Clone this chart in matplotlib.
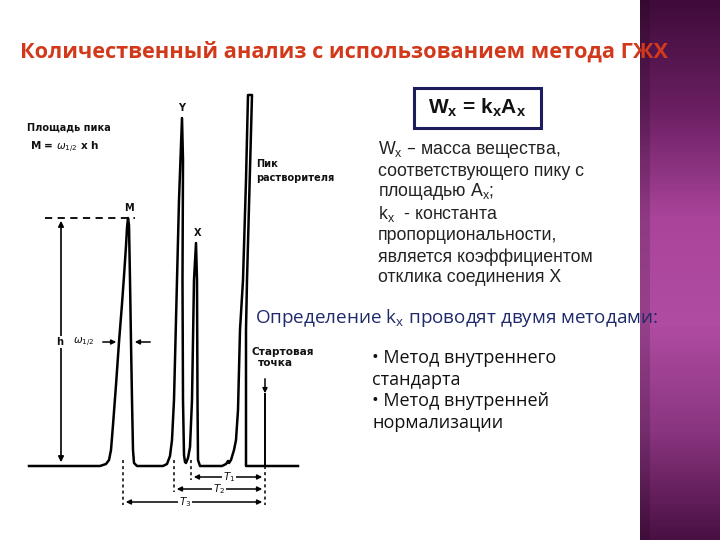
import numpy as np
import matplotlib.pyplot as plt
from matplotlib.patches import Rectangle
from matplotlib.colors import LinearSegmentedColormap

# хроматограмма: время удерживания (усл. ед.) и сигнал над базовой линией
trace_t = [29, 100, 106, 109, 111, 113, 116, 119, 122, 124, 126, 127, 128, 129, 130, 131, 132, 133, 134, 137,
           163, 167, 170, 172, 174, 176, 177, 179, 182, 183, 182.5, 183, 184, 185, 186, 188, 190, 192, 194,
           196, 197, 197.5, 198, 200, 222, 226, 228, 229, 231, 234, 236, 238, 240, 243, 246, 248, 252,
           247, 246, 246, 298]
trace_s = [0, 0, 2, 6, 16, 41, 81, 124, 162, 190, 220, 238, 248, 241, 186, 124, 66, 16, 3, 0,
           0, 2, 10, 26, 66, 146, 186, 266, 348, 306, 186, 66, 11, 4, 3, 8, 19, 66, 186,
           223, 186, 66, 6, 0, 0, 2, 5, 3, 6, 16, 26, 56, 136, 186, 286, 371, 371,
           186, 136, 0, 0]

peak_names = ['M', 'Y', 'X']
peak_t = [129, 182, 198]
peak_top = [248, 348, 223]

start_t = 265
t_names = ['$T_1$', '$T_2$', '$T_3$']
t_from = [191, 174, 123]
t_level = [-11, -23, -36]
t_label_x = [229, 219, 185]

h_val = 248
half_w = (119, 132)

formula = r'W$_\mathregular{x}$ = k$_\mathregular{x}$A$_\mathregular{x}$'
desc_lines = [r'W$_\mathregular{x}$ – масса вещества,',
              'соответствующего пику с',
              r'площадью А$_\mathregular{x}$;',
              r'k$_\mathregular{x}$  - константа',
              'пропорциональности,',
              'является коэффициентом',
              'отклика соединения Х']
desc_y = [150, 171, 192, 214, 236, 257, 278]
methods_head = r'Определение k$_\mathregular{x}$ проводят двумя методами:'
method_lines = ['• Метод внутреннего', 'стандарта', '• Метод внутренней', 'нормализации']
method_y = [358, 380, 401, 423]
title = 'Количественный анализ с использованием метода ГЖХ'

fig = plt.figure(figsize=(7.2, 5.4), dpi=100)
fig.patch.set_facecolor('white')

# слой слайда в пикселях
ax = fig.add_axes([0, 0, 1, 1])
ax.set_xlim(0, 720)
ax.set_ylim(540, 0)
ax.axis('off')

# фиолетовая полоса справа
stops = ['#3f0c3a', '#6a1f62', '#a9449a', '#b04ca2', '#8a3580', '#4a1044']
cmap = LinearSegmentedColormap.from_list('band', stops)
grad = np.linspace(0, 1, 270)[:, None] * np.ones((1, 40))
grad_img = cmap(grad)
grad_img[:, :5, :3] *= 0.85
ax.imshow(grad_img, extent=[640, 720, 540, 0], aspect='auto', zorder=1)

ax.text(20, 52, title, fontsize=15.7, fontweight='bold', color='#d2391b',
        family='Open Sans', va='center', ha='left', zorder=5)

# формула в рамке
ax.add_patch(Rectangle((414, 88), 127, 40, fill=False, edgecolor='#1c1c5e', lw=2.2, zorder=3))
ax.text(477, 108, formula, fontsize=15, fontweight='bold', family='Liberation Sans',
        ha='center', va='center', color='#111111')

for line, y in zip(desc_lines, desc_y):
    ax.text(378, y, line, fontsize=12.8, family='Liberation Sans', ha='left', va='center', color='#222222')

ax.text(255, 318, methods_head, fontsize=13.6, family='Open Sans', ha='left', va='center', color='#1f2a6b')
for line, y in zip(method_lines, method_y):
    ax.text(372, y, line, fontsize=13, family='Open Sans', ha='left', va='center', color='#111111')

# хроматограмма
cax = fig.add_axes([0, 20 / 540, 300 / 720, 440 / 540])
cax.set_xlim(0, 300)
cax.set_ylim(-54, 386)
cax.axis('off')
cax.patch.set_alpha(0)

cax.plot(trace_t, trace_s, color='black', lw=1.8, solid_joinstyle='round')

lab = dict(fontsize=7, fontweight='bold', family='DejaVu Sans', color='#111111')
box = dict(boxstyle='square,pad=0.1', fc='white', ec='none')
for name, t, top in zip(peak_names, peak_t, peak_top):
    cax.text(t, top + 10, name, ha='center', va='center', **lab)

# высота пика h
cax.plot([45, 135], [h_val, h_val], color='black', lw=1.3, ls=(0, (4, 3)))
cax.annotate('', xy=(61, h_val), xytext=(61, 1),
             arrowprops=dict(arrowstyle='<|-|>', color='black', lw=1.2, mutation_scale=8))
cax.text(60, h_val / 2, 'h', ha='center', va='center', bbox=box, zorder=4, **lab)

# ширина на половине высоты
cax.annotate('', xy=(half_w[0], h_val / 2), xytext=(100, h_val / 2),
             arrowprops=dict(arrowstyle='-|>', color='black', lw=1.1, mutation_scale=7))
cax.annotate('', xy=(half_w[1], h_val / 2), xytext=(153, h_val / 2),
             arrowprops=dict(arrowstyle='-|>', color='black', lw=1.1, mutation_scale=7))
cax.text(84, h_val / 2, r'$\omega_{1/2}$', ha='center', va='center', fontsize=7.5, color='#111111')

cax.text(27, 338, 'Площадь пика', ha='left', va='center', fontsize=7, fontweight='bold', color='#111111')
cax.text(30, 319, r'M = $\omega_{1/2}$ x h', ha='left', va='center', fontsize=7.5, fontweight='bold',
         color='#111111')

cax.text(256, 302, 'Пик', ha='left', va='center', **lab)
cax.text(256, 288, 'растворителя', ha='left', va='center', **lab)
cax.text(252, 114, 'Стартовая', ha='left', va='center', fontsize=7.6, fontweight='bold', color='#111111')
cax.text(258, 103, 'точка', ha='left', va='center', fontsize=7.6, fontweight='bold', color='#111111')

# стартовая точка и времена удерживания
cax.annotate('', xy=(start_t, 70), xytext=(start_t, 90),
             arrowprops=dict(arrowstyle='-|>', color='black', lw=1.1, mutation_scale=7))
cax.plot([start_t, start_t], [72, 0], color='black', lw=1.4)
cax.plot([start_t, start_t], [0, min(t_level) - 3], color='black', lw=1.1, ls=(0, (2, 2)))
for name, t0, lev, lx in zip(t_names, t_from, t_level, t_label_x):
    cax.plot([t0, t0], [6, lev - 3], color='black', lw=1.1, ls=(0, (2, 2)))
    cax.annotate('', xy=(start_t, lev), xytext=(t0, lev),
                 arrowprops=dict(arrowstyle='<|-|>', color='black', lw=1.1, mutation_scale=7))
    cax.text(lx, lev, name, ha='center', va='center', fontsize=7.5, bbox=box, zorder=4,
             color='#111111')

fig.savefig('out.png', dpi=100)
